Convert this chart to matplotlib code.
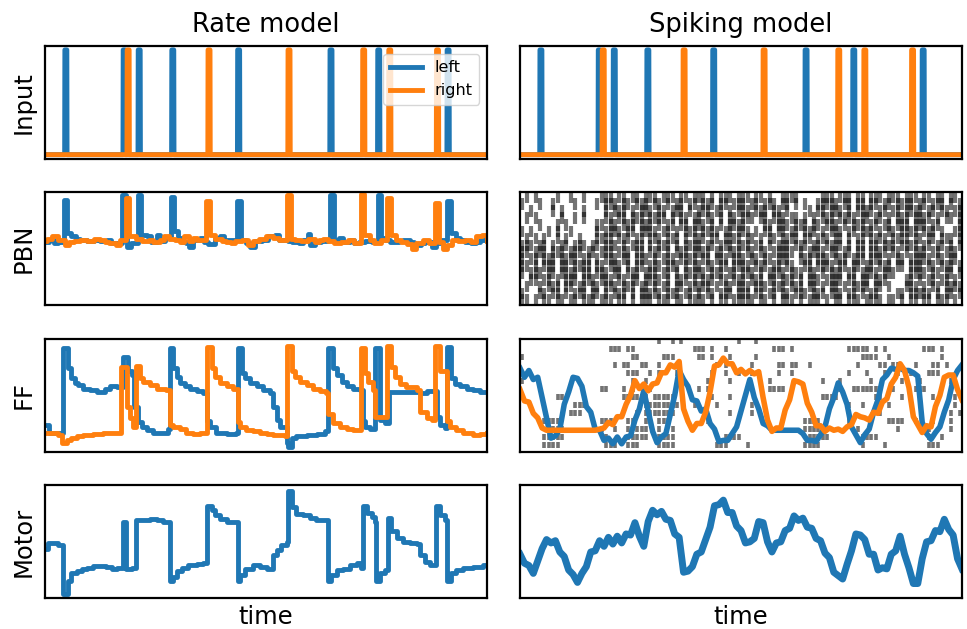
import numpy as np
import matplotlib.pyplot as plt

# input pulse times (same stimulus for both models)
left_pulses = [4.5, 17.7, 21.1, 28.7, 43.6, 64.5, 75.3, 91.0]
right_pulses = [18.6, 36.9, 55.0, 71.9, 77.8, 88.6]

# rate model, PBN (step breakpoints, y as fraction of panel)
pbn_l_t = [0, 1, 2, 3, 4.2, 5.0, 6, 7, 8, 9.5, 11, 12.5, 14, 15, 16.5, 17.5, 18.3, 18.6, 19.5, 20, 21, 21.8,
           23, 24, 25.3, 26, 27.2, 28.5, 29.3, 30, 31, 32, 32.5, 33.5, 35, 36, 37, 38.5, 39.5, 40.5, 42, 43.5,
           44.3, 45.5, 46.5, 47.5, 49, 50.5, 52, 53, 55, 56, 57.5, 58.5, 59.5, 60, 61, 62.5, 64, 64.5, 65.3,
           66.5, 67.5, 69, 70, 71, 72.5, 74, 75.3, 76.1, 77, 78, 79, 80, 81, 82.5, 83.5, 85, 86, 87.5, 88.5,
           89.5, 91, 91.8, 93, 94, 95, 96.5, 97.5, 98.5, 100]
pbn_l_y = [.56, .58, .55, .56, .93, .64, .61, .59, .58, .57, .58, .57, .58, .55, .55, .98, .60, .52, .55, .55, .98, .62,
           .61, .56, .62, .57, .60, .96, .66, .60, .56, .55, .52, .58, .60, .56, .54, .60, .61, .58, .58, .92,
           .58, .55, .52, .57, .58, .61, .62, .58, .57, .56, .55, .58, .63, .53, .56, .57, .58, .98, .58,
           .60, .56, .58, .55, .56, .57, .56, .98, .60, .58, .56, .56, .57, .58, .56, .53, .55, .56, .52, .55,
           .58, .92, .64, .60, .58, .56, .55, .56, .58, .58]
pbn_r_t = [0, 0.5, 1.5, 3, 4.5, 5.5, 6.5, 8, 9.5, 11, 12.5, 13.5, 14.5, 16, 17, 18.3, 19.1, 20.5, 22, 23.5, 24.5,
           26, 27, 28, 29.5, 30.5, 31.5, 32.5, 33.5, 34.5, 36.5, 37.3, 38.5, 40, 41, 42, 43, 44.5, 46, 47, 48.5,
           50, 51.5, 53, 54.8, 55.6, 56.5, 58, 59.5, 61, 62, 63, 64, 65.5, 67, 68.5, 70, 71.5, 72.3, 73.5, 74.5,
           76, 77.5, 78.3, 79.5, 80.5, 82, 83, 84, 85.5, 87, 88.3, 89.1, 90, 91, 92, 93.5, 95, 96.5, 97.5, 99, 100]
pbn_r_y = [.57, .59, .61, .58, .53, .56, .57, .58, .57, .59, .58, .56, .55, .53, .58, .95, .61, .59, .57, .58, .56,
           .58, .61, .59, .58, .56, .61, .57, .60, .58, .92, .62, .59, .57, .56, .55, .57, .58, .53, .57, .59,
           .61, .60, .58, .98, .59, .58, .57, .59, .56, .58, .59, .57, .55, .56, .58, .55, .99, .62, .58, .55,
           .58, .95, .62, .58, .56, .54, .50, .55, .58, .55, .91, .56, .50, .53, .58, .57, .58, .56, .61, .62, .57]

# rate model, FF
ff_l_t = [0, 0.8, 4.1, 5.3, 6.0, 6.8, 7.5, 8.7, 10.2, 11.7, 13.6, 14.7, 16.2, 17.7, 18.9, 19.6, 20.1, 21.1,
          21.9, 23.0, 24.5, 26.8, 27.9, 28.3, 29.0, 29.8, 30.5, 31.7, 32.8, 34.3, 35.8, 36.6, 37.3, 38.8,
          41.1, 43.2, 43.6, 44.5, 45.2, 46.4, 47.9, 49.4, 50.9, 51.7, 52.4, 53.2, 54.7, 55.1, 55.8, 56.9,
          59.2, 61.5, 63.3, 64.1, 65.2, 66.0, 67.1, 68.3, 69.8, 71.3, 71.9, 72.4, 73.5, 74.7, 75.8, 77.0,
          77.8, 84.8, 86.4, 88.6, 89.4, 90.5, 91.0, 91.8, 92.8, 93.9, 95.4, 96.9, 98.4, 100]
ff_l_y = [.24, .17, .92, .74, .65, .61, .59, .56, .55, .53, .56, .58, .57, .84, .72, .68, .40, .26,
          .22, .19, .17, .17, .20, .92, .74, .66, .61, .58, .56, .54, .52, .27, .22, .17,
          .16, .17, .92, .70, .65, .61, .58, .55, .52, .40, .28, .22, .08, .04, .12, .14,
          .15, .16, .18, .92, .74, .68, .62, .58, .56, .55, .27, .22, .20, .92, .28, .25,
          .53, .52, .54, .31, .24, .21, .93, .65, .60, .58, .56, .55, .53, .53]
ff_r_t = [0, 3.0, 3.8, 4.9, 6.0, 7.2, 8.7, 10.9, 13.2, 17.3, 18.6, 19.2, 20.0, 20.6, 21.5, 22.2, 23.8, 25.3,
          27.5, 28.3, 29.0, 30.5, 32.0, 33.6, 35.1, 36.7, 37.7, 38.5, 39.6, 41.1, 42.6, 43.6, 44.1, 45.6,
          47.1, 48.6, 50.2, 51.7, 54.3, 54.7, 55.8, 56.6, 57.7, 59.2, 60.7, 62.2, 63.7, 64.1, 65.2, 66.7,
          68.3, 69.8, 71.6, 72.4, 73.1, 74.3, 74.7, 77.3, 78.4, 79.2, 80.3, 81.8, 84.1, 84.8, 86.4, 87.5,
          88.2, 89.4, 91.0, 91.6, 93.1, 94.6, 96.9, 98.4, 100]
ff_r_y = [.17, .15, .08, .10, .12, .14, .15, .16, .17, .75, .40, .30, .22, .76, .65, .62, .59, .56,
          .55, .24, .22, .20, .17, .16, .17, .93, .74, .66, .61, .58, .56, .26, .22, .19,
          .18, .17, .16, .15, .14, .94, .72, .66, .62, .59, .56, .54, .52, .33, .25, .22,
          .20, .19, .92, .70, .62, .55, .31, .94, .75, .66, .60, .57, .55, .35, .30, .28,
          .94, .72, .27, .22, .19, .17, .15, .16, .17]

# rate model, motor
motor_t = [0, 0.75, 1.9, 3.0, 4.1, 5.3, 6.0, 7.2, 8.3, 9.4, 10.9, 12.4, 13.9, 15.1, 16.2, 17.6, 18.3, 19.6,
           20.7, 22.2, 23.8, 25.3, 26.8, 28.4, 29.0, 29.8, 30.9, 32.4, 34.3, 35.8, 36.7, 37.7, 38.5, 39.6,
           41.1, 43.6, 44.1, 45.2, 47.1, 48.6, 50.2, 51.7, 52.4, 53.5, 54.7, 55.1, 56.0, 56.9, 58.4, 59.9,
           61.4, 64.1, 64.8, 66.0, 67.5, 69.0, 70.5, 71.6, 71.9, 72.8, 73.9, 74.7, 74.9, 75.8, 76.9, 77.7,
           78.4, 79.6, 81.1, 82.6, 84.1, 84.8, 86.0, 87.1, 88.5, 89.4, 90.5, 91.0, 91.8, 93.1, 94.6, 96.9,
           99.2, 100]
motor_y = [.44, .49, .49, .47, .04, .15, .22, .24, .26, .27, .285, .285, .28, .26, .27, .68, .26, .27,
           .69, .69, .70, .69, .68, .15, .19, .24, .27, .29, .30, .31, .82, .78, .74, .70,
           .68, .15, .21, .26, .29, .28, .26, .38, .43, .47, .50, .95, .81, .75, .74, .71,
           .69, .15, .21, .25, .26, .29, .31, .27, .82, .76, .72, .68, .15, .22, .25, .71,
           .60, .53, .50, .49, .485, .38, .32, .29, .82, .74, .69, .15, .22, .25, .27, .28,
           .29, .29]

# spiking model, PBN raster (one string per neuron, bottom row first; '|' = spike in that time bin)
pbn_raster = [
    "||.|.||.|| .||.|||.|| |.||.|.||| .|||.||.|| ||.|.||.|| |||.||.|.| ||.|.|||.| .||.|||.|| ||.||.|.|| .||.|||.|.",
    "|...||.||. |.|||.||.| .|||.|.||| ||.|||.||. |.||.|||.| ||.||.||.| |.|||.|||. |||.||.|.| |....||.|| |||.|.||.|",
    ".|..|.|||. ||.||.||.| ||.|||.||. |.||.||.|| |||.|.||.| ||.|||.||| .|||.||.|. ||.|.||||. ||.|...||| .|.||.||||",
    "..||.||.|. |||.|||.|| |.||.||.|| ||.|.|||.| .|||.||.|| |.|||.||.| ||.|.|||.| |||.||.||. |||....||. |.||.||.|.",
    "|.|||.||.| |||.||.||| .||.|||.|| |.||.|.||| ||.|||.||. |||.|.|||| .|||.||.|. |||.||.||| |.|||...|| ||.||.||.|",
    "||.|.|||.| |.||||.||. |||.|.||.| ||.|||.|.| |.||.||.|| ||.|||.||. ||..||.||| |.||.||.|| .|||.||.|| |.||.|||.|",
    "|.||.|||.| |||.||.|.| ||.||.|||. |.|||.|||| .||.|||.|| |.||.||.|| |..|||.||| .|||.|||.| ||.|.||.|| |||.||.||.",
    "||.|||.||| .|||.||.|| |.|||.||.| ||.|.|||.| |||.||.||| .||.||.||| ||.|.||||. ||.||.||.| |||.||.|.| ||.||.|||.",
    "|||.||.|.| |.|||.||.| ||.|.|||.| .|||.|.||| |.||.|||.| ||.||.|.|| |.|||.||.| |||.|.||.| |.|||.|||| .||.||.|.|",
    ".|.|.|..|. |..|...||| |.|||.||.| ||.|||.|.| ||.||.|||| .||.|.||.| |||.||.||| .||.|.||.| |||.||||.| |.||.|||.|",
    "|.|...|.|. .|.....|.| |||.||.||| |.||.|.||| .||||.||.| ||.|.||.|| .||.|||.|. |||.||.||| .|.||.|||| .|||.|..||",
    "....|...|. |......||. ||.|||.||| .|.||.||.| ||.|.|.||| |....||.|| |.|||.||.| ||.|.|||.| |.||.|||.| ||.||....|",
    ".|.|.....| ..|.|....| |.||.|||.| |||.|.||.| |.||.|.||. |||.||.||| .||.|.|.|| |.||||.||. ||.|.|||.| |||.|.||.|",
    "..|....|.| ....|....| .|||.|.||| .||.|||.|. |||.||.|.| ||.|||.||. |....|.||. |||.|.|||| .||.||.||| |.||.||.||",
    "|...|..|.. ..|....|.| ||.||.|||. ||.|.||.|| .|||.||.|| |.||.|||.| |.|.|..||| ||.||.||.| |.||.||||. ||.|||.|.|",
    ".|.|....|. .|..|...|| |.||.||.|| |.|||.||.| ||.|.|||.| ||.||.|..| |||.....|| |.|||.||.| ||.|||.||| .||.||.||.",
]

# spiking model, FF raster (time bins of spikes per neuron, bottom row first)
ff_raster = [
    [5, 6, 7, 8, 19, 20, 21, 24, 25, 26, 31, 32, 33, 34, 44, 45, 46, 51, 64, 65, 66, 67, 77, 82, 92, 93, 94],
    [5, 6, 7, 8, 9, 19, 24, 25, 26, 27, 28, 31, 32, 33, 34, 46, 47, 48, 49, 65, 66, 67, 68, 69, 77, 78, 79, 80, 92, 95],
    [6, 7, 8, 9, 18, 21, 24, 26, 27, 28, 31, 34, 64, 65, 66, 67, 76, 85, 92, 97],
    [5, 6, 7, 8, 18, 19, 20, 24, 25, 28, 31, 32, 33, 42, 64, 65, 66, 67, 74, 83, 84, 85, 86, 89, 93, 97],
    [11, 12, 13, 26, 28, 29, 30, 31, 32, 33, 34, 47, 52, 74, 81, 97, 99],
    [12, 13, 14, 28, 29, 30, 31, 32, 33, 34, 35, 39, 44, 52, 74, 77, 83, 96, 98],
    [8, 9, 23, 24, 25, 26, 27, 28, 30, 31, 32, 33, 34, 43, 47, 68, 69, 70, 71, 80, 81, 86, 93, 98],
    [18, 19, 23, 25, 28, 29, 40, 42, 56, 57, 58, 59, 72, 75, 76, 77, 78, 79, 80, 81, 84, 89, 90, 91, 97],
    [0, 25, 28, 35, 42, 47, 56, 68, 72, 79, 86, 90, 97],
    [24, 25, 26, 29, 31, 35, 43, 46, 49, 52, 58, 61, 74, 78, 82, 85, 88, 92, 93, 94],
    [21, 23, 24, 27, 28, 31, 44, 46, 52, 58, 59, 61, 62, 65, 76, 81, 82, 84, 85, 89, 93, 94, 96],
    [0, 25, 26, 32, 33, 34, 40, 41, 43, 47, 53, 77, 78, 79, 80, 83, 95],
    [20, 21, 22, 24, 25, 39, 40, 41, 43, 46, 57, 58, 59, 61, 74, 75, 76, 77, 78, 80, 82, 91, 92, 93, 95],
    [31, 34, 36, 49, 53],
]

# spiking model, FF population traces (one value per time unit, 0..100)
ff_spk_left = [.74, .66, .72, .64, .66, .48, .30, .12, .14, .20, .42, .53, .66, .65, .58, .40, .35, .20, .19, .10,
               .12, .07, .13, .07, .13, .14, .28, .38, .54, .36, .18, .08, .13, .16, .33, .50, .72, .64, .58, .46,
               .45, .36, .38, .25, .20, .09, .10, .10, .16, .22, .36, .50, .64, .48, .38, .25, .23, .19, .19, .19,
               .19, .19, .19, .19, .16, .10, .10, .09, .15, .22, .38, .48, .61, .53, .42, .22, .15, .08, .15, .20,
               .35, .46, .64, .68, .74, .73, .74, .72, .72, .70, .67, .26, .16, .11, .17, .22, .35, .46, .64, .72, .77]
ff_spk_right = [.55, .45, .44, .34, .30, .21, .19, .19, .19, .19, .19, .19, .19, .19, .19, .19, .19, .19, .20, .21,
                .26, .24, .31, .31, .42, .50, .63, .56, .60, .54, .60, .61, .70, .70, .77, .75, .80, .38, .27, .19,
                .25, .25, .35, .53, .76, .77, .83, .78, .78, .70, .73, .69, .72, .69, .71, .48, .28, .18, .21, .21,
                .37, .46, .63, .62, .60, .43, .35, .23, .23, .18, .21, .19, .20, .18, .22, .24, .33, .31, .30, .28,
                .35, .34, .44, .47, .60, .66, .78, .72, .57, .31, .24, .17, .23, .22, .40, .50, .66, .68, .68, .55, .46]

# spiking model, motor trace
motor_spk = [.39, .31, .29, .22, .33, .44, .52, .49, .51, .41, .37, .25, .21, .14, .22, .28, .41, .42, .51, .46,
             .54, .48, .55, .49, .57, .56, .67, .55, .46, .68, .78, .74, .77, .70, .69, .57, .54, .23, .24, .28,
             .39, .41, .52, .63, .82, .83, .87, .76, .76, .64, .60, .49, .50, .53, .68, .67, .50, .41, .49, .50,
             .60, .62, .73, .69, .71, .63, .62, .53, .51, .40, .36, .23, .20, .17, .30, .42, .57, .56, .52, .39,
             .39, .25, .27, .26, .39, .42, .55, .39, .27, .13, .13, .35, .50, .51, .60, .59, .70, .61, .56, .35, .26]

blue = '#1f77b4'
orange = '#ff7f0e'

fig, axes = plt.subplots(4, 2, figsize=(9.67, 6.29), dpi=100)
fig.subplots_adjust(left=0.0465, right=0.9948, top=0.927, bottom=0.049, wspace=0.075, hspace=0.30)

for ax in axes.flat:
    ax.set_xticks([])
    ax.set_yticks([])
    ax.set_xlim(0, 100)
    for s in ax.spines.values():
        s.set_linewidth(1.6)

# input row
t = np.linspace(0, 100, 2001)
inp_l = np.zeros_like(t)
inp_r = np.zeros_like(t)
for p in left_pulses:
    inp_l[(t >= p) & (t < p + 0.5)] = 1
for p in right_pulses:
    inp_r[(t >= p) & (t < p + 0.5)] = 1
for ax in axes[0]:
    ax.plot(t, inp_l, color=blue, lw=3.5, label='left')
    ax.plot(t, inp_r, color=orange, lw=3.5, label='right')
    ax.set_ylim(-0.038, 1.038)
axes[0, 0].legend(loc='upper right', fontsize=11.5)

# rate model
axes[1, 0].step(pbn_l_t, pbn_l_y, where='post', color=blue, lw=3.5)
axes[1, 0].step(pbn_r_t, pbn_r_y, where='post', color=orange, lw=3.5)
axes[2, 0].step(ff_l_t, ff_l_y, where='post', color=blue, lw=3.5)
axes[2, 0].step(ff_r_t, ff_r_y, where='post', color=orange, lw=3.5)
axes[3, 0].step(motor_t, motor_y, where='post', color=blue, lw=3.5)
for ax in axes[1:, 0]:
    ax.set_ylim(0, 1)

# spiking model
spikes = [[i + 0.5 for i, c in enumerate(row.replace(' ', '')) if c == '|'] for row in pbn_raster]
axes[1, 1].eventplot(spikes, lineoffsets=np.arange(len(spikes)), linelengths=1.7,
                     linewidths=3.0, colors='k', alpha=0.55)
axes[1, 1].set_ylim(-0.7, len(spikes) - 0.3)

ff_spikes = [[b + 0.5 for b in row] for row in ff_raster]
axes[2, 1].eventplot(ff_spikes, lineoffsets=0.06 + 0.0708 * np.arange(len(ff_spikes)),
                     linelengths=0.05, linewidths=2.6, colors='k', alpha=0.55)
tt = np.arange(101)
axes[2, 1].plot(tt, ff_spk_left, color=blue, lw=4)
axes[2, 1].plot(tt, ff_spk_right, color=orange, lw=4)
axes[2, 1].set_ylim(0, 1)

axes[3, 1].plot(tt, motor_spk, color=blue, lw=5)
axes[3, 1].set_ylim(0, 1)

axes[0, 0].set_title('Rate model', fontsize=18.5, pad=10)
axes[0, 1].set_title('Spiking model', fontsize=18.5, pad=10)
for ax, lab in zip(axes[:, 0], ['Input', 'PBN', 'FF', 'Motor']):
    ax.set_ylabel(lab, fontsize=17.5, labelpad=7)
axes[3, 0].set_xlabel('time', fontsize=17.5, labelpad=5)
axes[3, 1].set_xlabel('time', fontsize=17.5, labelpad=5)

fig.savefig('out.png', dpi=100)
